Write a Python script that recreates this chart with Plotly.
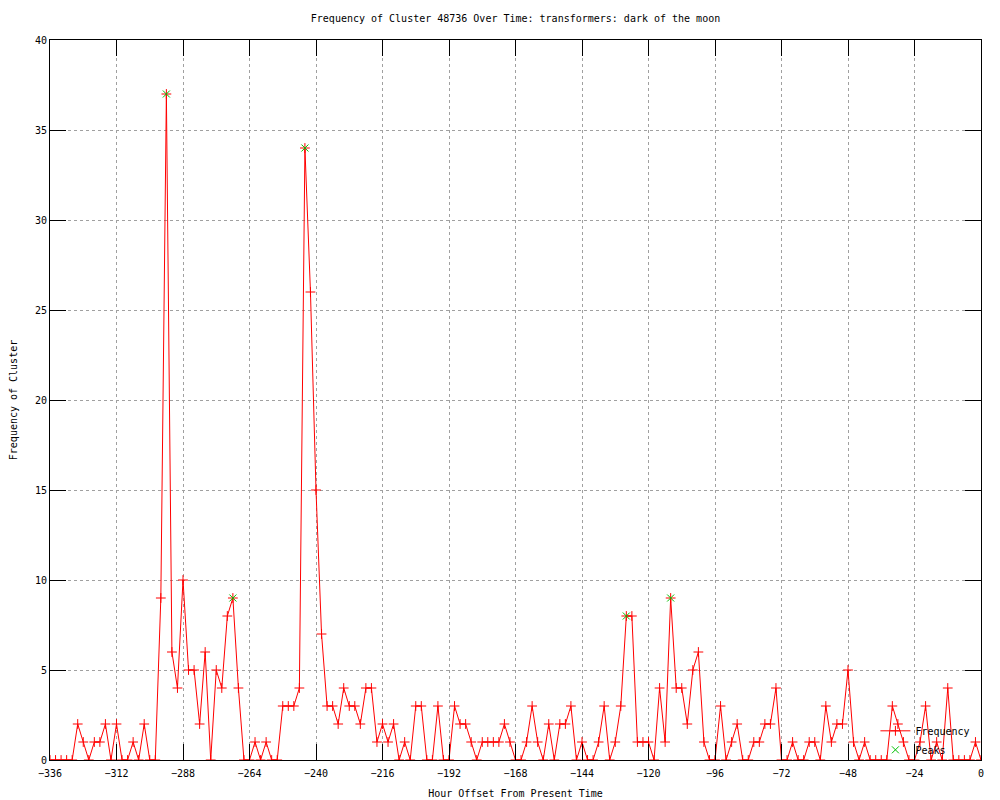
import plotly.graph_objects as go

# hourly offsets, one sample every 2 hours
hours = list(range(-336, 1, 2))
frequency = [
    0, 0, 0, 0, 0, 2, 1, 0, 1, 1,
    2, 0, 2, 0, 0, 1, 0, 2, 0, 0,
    9, 37, 6, 4, 10, 5, 5, 2, 6, 0,
    5, 4, 8, 9, 4, 0, 0, 1, 0, 1,
    0, 0, 3, 3, 3, 4, 34, 26, 15, 7,
    3, 3, 2, 4, 3, 3, 2, 4, 4, 1,
    2, 1, 2, 0, 1, 0, 3, 3, 0, 0,
    3, 0, 0, 3, 2, 2, 1, 0, 1, 1,
    1, 1, 2, 1, 0, 0, 1, 3, 1, 0,
    2, 0, 2, 2, 3, 0, 1, 0, 0, 1,
    3, 0, 1, 3, 8, 8, 1, 1, 1, 0,
    4, 1, 9, 4, 4, 2, 5, 6, 1, 0,
    0, 3, 0, 1, 2, 0, 0, 1, 1, 2,
    2, 4, 0, 0, 1, 0, 0, 1, 1, 0,
    3, 1, 2, 2, 5, 1, 0, 1, 0, 0,
    0, 0, 3, 2, 1, 0, 0, 1, 3, 0,
    1, 0, 4, 0, 0, 0, 0, 1, 0,
]
peak_hours = [-294, -270, -244, -128, -112]
peak_values = [37, 9, 34, 8, 9]

x_ticks = list(range(-336, 1, 24))
y_ticks = list(range(0, 41, 5))

FONT = "DejaVu Sans Mono"

fig = go.Figure()
fig.add_trace(go.Scatter(
    x=hours, y=frequency, name="Frequency", mode="lines+markers",
    line=dict(color="#ff0000", width=1),
    marker=dict(symbol="cross-thin-open", size=7, color="#ff0000",
                line=dict(color="#ff0000", width=1)),
))
fig.add_trace(go.Scatter(
    x=peak_hours, y=peak_values, name="Peaks", mode="markers",
    marker=dict(symbol="x-thin-open", size=7, color="#00c000",
                line=dict(color="#00c000", width=1)),
))

axis_common = dict(
    showline=True, linecolor="black", linewidth=1, mirror="ticks",
    ticks="inside", ticklen=16, tickcolor="black", automargin=False,
    showgrid=True, gridcolor="#a0a0a0", griddash="dot", gridwidth=1,
    zeroline=False, tickfont=dict(family=FONT, size=10, color="black"),
)

# page body adds an 8px margin, so the figure is 992x792 and shifted back
fig.update_layout(
    width=992, height=792,
    paper_bgcolor="white", plot_bgcolor="white",
    margin=dict(l=42, r=19, t=32, b=40),
    title=dict(
        text="Frequency of Cluster 48736 Over Time: transformers: dark of the moon",
        xref="paper", x=0.5, xanchor="center",
        yref="container", y=0.987, yanchor="middle",
        font=dict(family=FONT, size=10, color="black"),
    ),
    xaxis=dict(
        range=[-336, 0], tickvals=x_ticks, ticklabelstandoff=4,
        title=dict(text="Hour Offset From Present Time", standoff=11,
                   font=dict(family=FONT, size=10, color="black")),
        **axis_common,
    ),
    yaxis=dict(
        range=[0, 40], tickvals=y_ticks,
        title=dict(text="Frequency of Cluster", standoff=17,
                   font=dict(family=FONT, size=10, color="black")),
        **axis_common,
    ),
    legend=dict(
        x=0.994, xanchor="right", y=-0.006, yanchor="bottom",
        bgcolor="rgba(0,0,0,0)", font=dict(family=FONT, size=10, color="black"),
        itemwidth=30, tracegroupgap=0,
    ),
    showlegend=True,
)

fig.write_html("out.html")
